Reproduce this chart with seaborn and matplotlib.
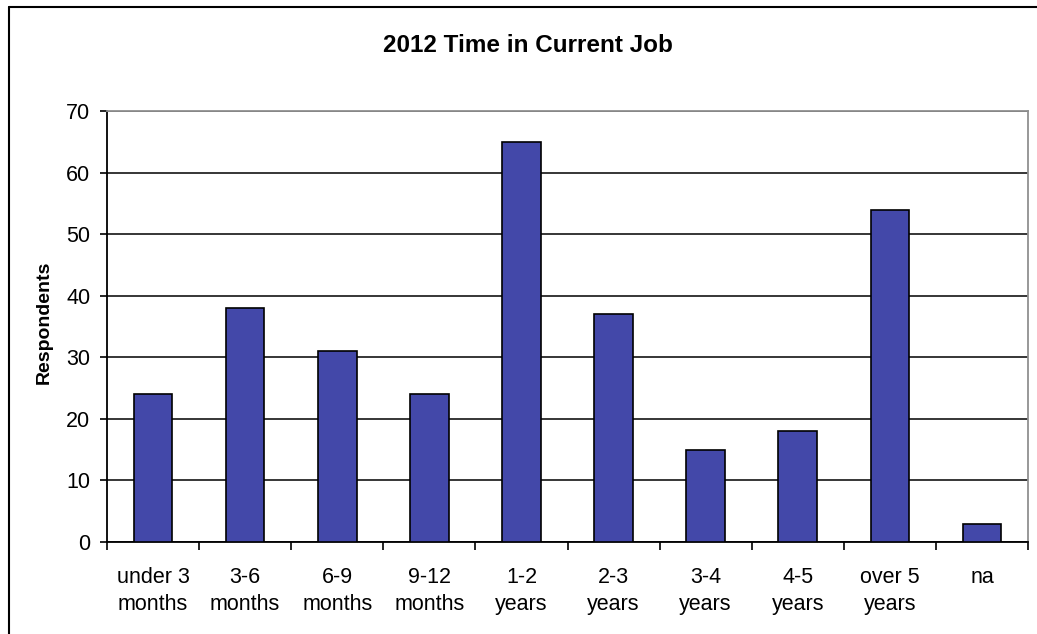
import matplotlib
matplotlib.use('Agg')
import matplotlib.pyplot as plt
from matplotlib.lines import Line2D
from matplotlib.ticker import FixedLocator
import seaborn as sns
import pandas as pd

# Chart data
categories = ['under 3\nmonths', '3-6\nmonths', '6-9\nmonths', '9-12\nmonths', '1-2\nyears',
              '2-3\nyears', '3-4\nyears', '4-5\nyears', 'over 5\nyears', 'na']
respondents = [24, 38, 31, 24, 65, 37, 15, 18, 54, 3]
y_ticks = [0, 10, 20, 30, 40, 50, 60, 70]

sns.set_style('white')
plt.rcParams['font.family'] = ['Liberation Sans', 'DejaVu Sans']
plt.rcParams['text.color'] = 'black'
plt.rcParams['xtick.color'] = 'black'
plt.rcParams['ytick.color'] = 'black'

df = pd.DataFrame({'Category': categories, 'Respondents': respondents})

fig = plt.figure(figsize=(10.37, 6.34), dpi=100)
ax = fig.add_axes([107 / 1037, 92 / 634, 921 / 1037, 431 / 634])

sns.barplot(data=df, x='Category', y='Respondents', color='#4348A9', saturation=1,
            width=0.42, edgecolor='black', linewidth=1.2, ax=ax, zorder=3)

# Axis range and grid
ax.set_xlim(-0.5, len(categories) - 0.5)
ax.set_ylim(0, 70)
ax.set_yticks(y_ticks)
ax.yaxis.grid(True, color='black', linewidth=1.1, zorder=0)
ax.set_axisbelow(True)

# Spines like the Excel plot area
for side in ['left', 'bottom']:
    ax.spines[side].set_color('black')
    ax.spines[side].set_linewidth(1.3)
for side in ['top', 'right']:
    ax.spines[side].set_color('#909090')
    ax.spines[side].set_linewidth(1.3)

# Ticks: y outward, x tick marks on category boundaries
ax.tick_params(axis='y', direction='out', length=5, width=1.2, color='black',
               labelsize=15.5, labelcolor='black', pad=7, left=True)
ax.tick_params(axis='x', which='major', length=0, labelsize=15.5, labelcolor='black', pad=18)
ax.xaxis.set_minor_locator(FixedLocator([i - 0.5 for i in range(len(categories) + 1)]))
ax.tick_params(axis='x', which='minor', direction='out', length=6, width=1.2,
               color='black', bottom=True)
for lbl in ax.get_xticklabels():
    lbl.set_linespacing(1.4)

ax.set_xlabel('')
ax.set_ylabel('')

# Titles
fig.text(528 / 1037, 1 - 46 / 634, '2012 Time in Current Job', ha='center', va='center',
         fontsize=17.5, fontweight='bold', color='black')
fig.text(44 / 1037, 1 - 322 / 634, 'Respondents', ha='center', va='center',
         rotation=90, fontsize=14, fontweight='bold', color='black')

# Outer chart frame (cropped at right and bottom)
fig.add_artist(Line2D([9 / 1037, 9 / 1037], [0, 1 - 7 / 634], transform=fig.transFigure,
                      color='black', linewidth=1.5))
fig.add_artist(Line2D([9 / 1037, 1], [1 - 7 / 634, 1 - 7 / 634], transform=fig.transFigure,
                      color='black', linewidth=1.5))

fig.savefig('out.png', dpi=100)
